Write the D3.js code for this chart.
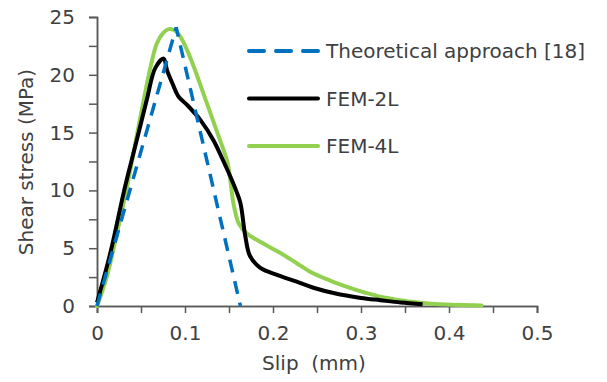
<!DOCTYPE html>
<html>
<head>
<meta charset="utf-8">
<script src="https://cdn.jsdelivr.net/npm/d3@7"></script>
<style>
  body { margin: 0; background: #fff; }
  text { font-family: "DejaVu Sans", sans-serif; fill: #404040; }
</style>
</head>
<body>
<svg></svg>
<script>
// --------------- data (slip in mm, shear stress in MPa)
const theorySlip = [0, 0.090, 0.163];
const theoryStress = [0, 24.1, 0];

const fem2Slip = [0, 0.0152, 0.030, 0.038, 0.047, 0.0568, 0.0663, 0.0758, 0.0795, 0.086, 0.0928, 0.1023, 0.1174, 0.1326, 0.142, 0.1515, 0.158, 0.163, 0.1686, 0.174, 0.1856, 0.2045, 0.227, 0.245, 0.27, 0.3, 0.322, 0.345, 0.37];
const fem2Stress = [0.3, 4.6, 9.7, 12.2, 14.9, 17.9, 20.6, 21.4, 20.4, 19.2, 18.1, 17.4, 16.1, 14.3, 12.8, 11.2, 10.0, 8.9, 6.0, 4.3, 3.3, 2.7, 2.1, 1.6, 1.1, 0.7, 0.5, 0.3, 0.15];

const fem4Slip = [0, 0.011, 0.0227, 0.034, 0.0379, 0.0492, 0.0606, 0.068, 0.075, 0.0814, 0.088, 0.0947, 0.102, 0.110, 0.125, 0.140, 0.148, 0.1515, 0.155, 0.161, 0.170, 0.189, 0.208, 0.227, 0.245, 0.265, 0.284, 0.305, 0.322, 0.34, 0.36, 0.38, 0.397, 0.437];
const fem4Stress = [0, 2.5, 6.3, 10.3, 11.8, 16.3, 20.6, 22.7, 23.6, 23.95, 23.85, 23.3, 22.2, 20.7, 17.5, 14.3, 12.5, 10.9, 8.9, 7.15, 6.3, 5.4, 4.6, 3.7, 2.85, 2.2, 1.65, 1.15, 0.8, 0.55, 0.35, 0.2, 0.12, 0.05];

const xTicks = [0, 0.1, 0.2, 0.3, 0.4, 0.5];
const yTicks = [0, 5, 10, 15, 20, 25];
const xMinor = [0.05, 0.15, 0.25, 0.35, 0.45];
const yMinor = [2.5, 7.5, 12.5, 17.5, 22.5];

const seriesNames = ['Theoretical approach [18]', 'FEM-2L', 'FEM-4L'];

// setup
const width = 607;
const height = 382;
const svg = d3.select('svg').attr('width', width).attr('height', height);

const x = d3.scaleLinear().domain([0, 0.5]).range([97, 537]);
const y = d3.scaleLinear().domain([0, 25]).range([306, 17]);

const axisColor = '#595959';

// axes
const yAxis = svg.append('g')
  .attr('transform', 'translate(' + x(0) + ',0)')
  .call(d3.axisLeft(y).tickValues(yTicks).tickSize(8).tickPadding(14).tickFormat(d3.format('d')));
const yMinorAxis = svg.append('g')
  .attr('transform', 'translate(' + x(0) + ',0)')
  .call(d3.axisLeft(y).tickValues(yMinor).tickSize(8).tickFormat(''));

const xAxis = svg.append('g')
  .attr('transform', 'translate(0,' + y(0) + ')')
  .call(d3.axisBottom(x).tickValues(xTicks).tickSize(7).tickPadding(13)
    .tickFormat(function (d) { return d === 0 ? '0' : d3.format('.1f')(d); }));
const xMinorAxis = svg.append('g')
  .attr('transform', 'translate(0,' + y(0) + ')')
  .call(d3.axisBottom(x).tickValues(xMinor).tickSize(7).tickFormat(''));

[yAxis, yMinorAxis, xAxis, xMinorAxis].forEach(function (g) {
  g.select('.domain').attr('stroke', axisColor).attr('stroke-width', 1.5);
  g.selectAll('.tick line').attr('stroke', axisColor).attr('stroke-width', 1.5);
  g.selectAll('.tick text').style('font-size', '20px').attr('fill', '#404040')
    .style('font-family', '"DejaVu Sans", sans-serif');
});

// axis titles
svg.append('text')
  .attr('x', 314).attr('y', 370)
  .attr('text-anchor', 'middle')
  .style('font-size', '20px')
  .style('white-space', 'pre')
  .text('Slip  (mm)');

svg.append('text')
  .attr('transform', 'translate(33,162) rotate(-90)')
  .attr('text-anchor', 'middle')
  .style('font-size', '20px')
  .text('Shear stress (MPa)');

// lines
const line = d3.line()
  .x(function (d) { return x(d[0]); })
  .y(function (d) { return y(d[1]); })
  .curve(d3.curveCatmullRom.alpha(0.5));

const straight = d3.line()
  .x(function (d) { return x(d[0]); })
  .y(function (d) { return y(d[1]); });

svg.append('path')
  .datum(d3.zip(fem4Slip, fem4Stress))
  .attr('fill', 'none')
  .attr('stroke', '#92D050')
  .attr('stroke-width', 4)
  .attr('stroke-linejoin', 'round')
  .attr('stroke-linecap', 'round')
  .attr('d', line);

svg.append('path')
  .datum(d3.zip(fem2Slip, fem2Stress))
  .attr('fill', 'none')
  .attr('stroke', '#000')
  .attr('stroke-width', 4)
  .attr('stroke-linejoin', 'round')
  .attr('d', line);

svg.append('path')
  .datum(d3.zip(theorySlip, theoryStress))
  .attr('fill', 'none')
  .attr('stroke', '#0070C0')
  .attr('stroke-width', 3.5)
  .attr('stroke-dasharray', '13,9')
  .attr('d', straight);

// legend
const legendColors = ['#0070C0', '#000', '#92D050'];
const legendDash = ['15,12', null, null];
const legend = svg.selectAll('.legend').data(seriesNames).enter()
  .append('g')
  .attr('class', 'legend')
  .attr('transform', function (d, i) { return 'translate(0,' + (51 + i * 47.5) + ')'; });

legend.append('line')
  .attr('x1', 249).attr('x2', 318)
  .attr('stroke', function (d, i) { return legendColors[i]; })
  .attr('stroke-width', 4)
  .attr('stroke-linecap', 'round')
  .attr('stroke-dasharray', function (d, i) { return legendDash[i]; });

legend.append('text')
  .attr('x', 326).attr('y', 7)
  .style('font-size', '20px')
  .text(function (d) { return d; });
</script>
</body>
</html>
